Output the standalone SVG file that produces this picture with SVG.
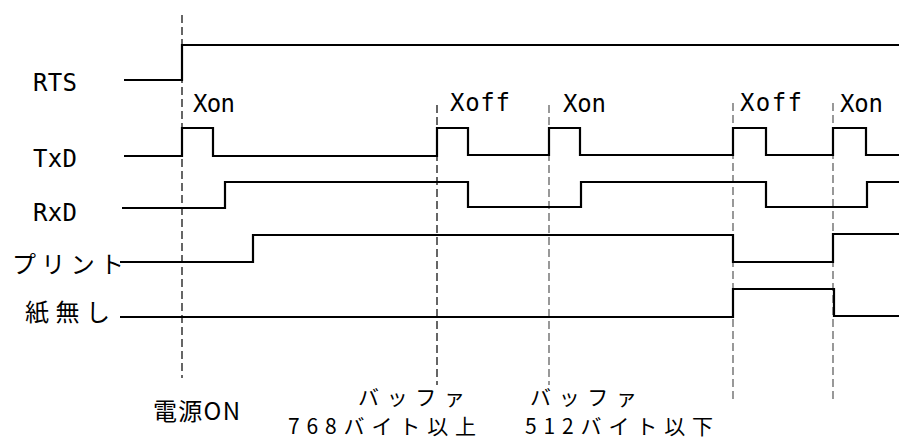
<svg xmlns="http://www.w3.org/2000/svg" width="899" height="440" viewBox="0 0 899 440">
<style>
.bg{fill:#fff}
.wave{fill:none;stroke:#000;stroke-width:2.2;stroke-linejoin:miter}
.dash{fill:none;stroke:#000;stroke-width:1.2;stroke-dasharray:8 4}
.dash2{fill:none;stroke:#555;stroke-width:1.2;stroke-dasharray:8 4}
text{font-family:"Noto Sans CJK JP","DejaVu Sans",sans-serif;font-size:24px;fill:#000;font-variant-ligatures:none}
.lat{font-family:"DejaVu Sans Mono","Liberation Mono",monospace;font-size:24px}
.sm{font-size:21px}
</style>
<rect class="bg" x="0" y="0" width="899" height="440"/>
<g id="connectors">
<line class="dash" x1="182" y1="15" x2="182" y2="378"/>
<line class="dash" x1="437" y1="105" x2="437" y2="385"/>
<line class="dash2" x1="549" y1="105" x2="549" y2="385"/>
<line class="dash2" x1="733" y1="103" x2="733" y2="402"/>
<line class="dash2" x1="833" y1="103" x2="833" y2="402"/>
</g>
<g id="rts">
<text class="lat" x="33" y="91" textLength="44" lengthAdjust="spacing">RTS</text>
<path class="wave" d="M124,80 H182 V45 H899"/>
</g>
<g id="txd">
<text class="lat" x="33" y="167" textLength="44" lengthAdjust="spacing">TxD</text>
<path class="wave" d="M124,156 H182 V128 H213 V156 H437 V128 H468 V155 H549 V128 H580 V155 H733 V128 H766 V155 H833 V128 H866 V155 H899"/>
</g>
<g id="rxd">
<text class="lat" x="33" y="221" textLength="44" lengthAdjust="spacing">RxD</text>
<path class="wave" d="M122,208 H225 V182 H468 V207 H581 V182 H766 V207 H867 V182 H899"/>
</g>
<g id="print">
<text x="12" y="273" textLength="112" lengthAdjust="spacing">プリント</text>
<path class="wave" d="M120,262 H253 V235 H733 V262 H833 V234 H899"/>
</g>
<g id="nopaper">
<text x="25" y="321" textLength="85" lengthAdjust="spacing">紙無し</text>
<path class="wave" d="M120,317 H733 V289 H834 V316 H899"/>
</g>
<g id="labels">
<text class="lat" x="193" y="112" textLength="42" lengthAdjust="spacing">Xon</text>
<text class="lat" x="450" y="111" textLength="60" lengthAdjust="spacing">Xoff</text>
<text class="lat" x="563" y="112" textLength="43" lengthAdjust="spacing">Xon</text>
<text class="lat" x="740" y="111" textLength="62" lengthAdjust="spacing">Xoff</text>
<text class="lat" x="840" y="112" textLength="43" lengthAdjust="spacing">Xon</text>
</g>
<g id="power-on">
<text x="153" y="420" textLength="87" lengthAdjust="spacing">電源ON</text>
</g>
<g id="buffer-768">
<text class="sm" x="358" y="405" textLength="107" lengthAdjust="spacing">バッファ</text>
<text class="sm" x="288" y="434" textLength="188" lengthAdjust="spacing">768バイト以上</text>
</g>
<g id="buffer-512">
<text class="sm" x="530" y="405" textLength="107" lengthAdjust="spacing">バッファ</text>
<text class="sm" x="525" y="434" textLength="188" lengthAdjust="spacing">512バイト以下</text>
</g>
</svg>
